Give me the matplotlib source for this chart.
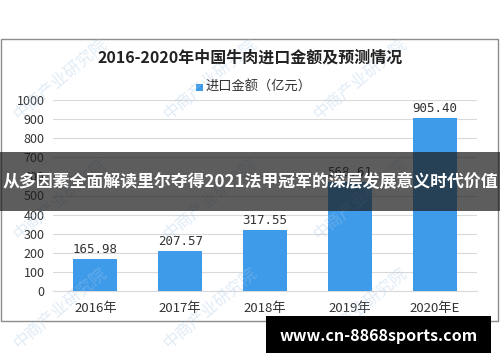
import matplotlib
matplotlib.use("Agg")
import matplotlib.pyplot as plt
from matplotlib.patches import Rectangle

plt.rcParams['font.family'] = ['Noto Sans CJK SC', 'DejaVu Sans']

categories = ["2016年", "2017年", "2018年", "2019年", "2020年E"]
values = [165.98, 207.57, 317.55, 568.61, 905.40]
value_labels = ["165.98", "207.57", "317.55", "568.61", "905.40"]
yticks = [0, 100, 200, 300, 400, 500, 600, 700, 800, 900, 1000]

fig = plt.figure(figsize=(5, 3.62), dpi=100)
fig.patch.set_facecolor('white')

# chart border
fig.patches.append(Rectangle((0.002, 1 - 321/362), 0.994, (321 - 39)/362,
                             transform=fig.transFigure, fill=False,
                             edgecolor='#8c8c8c', linewidth=1.0))

ax = fig.add_axes([53/500, 1 - 291/362, 424/500, 191/362])
x = list(range(len(categories)))
ax.bar(x, values, width=0.52, color='#3d9be9', zorder=3, label='进口金额（亿元）')
for xi, v, lab in zip(x, values, value_labels):
    ax.text(xi, v + 18, lab, ha='center', va='bottom', fontsize=9,
            family=['DejaVu Sans Mono'], color='#333333', zorder=4)
ax.set_ylim(0, 1000)
ax.set_xlim(-0.5, 4.5)
ax.set_yticks(yticks)
ax.set_yticklabels([str(t) for t in yticks], fontsize=9, color='#333333')
ax.set_xticks(x)
ax.set_xticklabels(categories, fontsize=9.5, color='#333333')
ax.tick_params(axis='both', length=0, pad=6)
ax.tick_params(axis='x', pad=8)
ax.grid(axis='y', color='#d9d9d9', linewidth=0.8, zorder=0)
for s in ax.spines.values():
    s.set_visible(False)
ax.spines['bottom'].set_visible(True)
ax.spines['bottom'].set_color('#d9d9d9')

fig.text(0.5, 1 - 58/362, "2016-2020年中国牛肉进口金额及预测情况", ha='center', va='center',
         fontsize=11.5, fontweight='bold', color='#222222')
# legend
fig.patches.append(Rectangle((196/500, 1 - 91/362), 7/500, 7/362, transform=fig.transFigure,
                             facecolor='#3d9be9', edgecolor='none'))
fig.text(205/500, 1 - 87/362, "进口金额（亿元）", ha='left', va='center', fontsize=9.5, color='#333333')

# watermarks
for (wx, wy) in [(0.12, 0.78), (0.42, 0.78), (0.72, 0.78), (0.12, 0.45), (0.42, 0.45),
                 (0.72, 0.45), (0.12, 0.15), (0.42, 0.15), (0.72, 0.15)]:
    fig.text(wx, wy, "中商产业研究院", rotation=40, fontsize=12, color='#a9c8e6',
             alpha=0.35, ha='center', va='center', zorder=1)

# overlay banner
fig.patches.append(Rectangle((0, 1 - 211/362), 1, 59/362, transform=fig.transFigure,
                             facecolor='#1e1e1e', alpha=0.72, edgecolor='none', zorder=10))
fig.text(0.5, 1 - 182/362, "从多因素全面解读里尔夺得2021法甲冠军的深层发展意义时代价值",
         ha='center', va='center', fontsize=12.2, fontweight='bold', color='white', zorder=11)

# bottom url box
fig.patches.append(Rectangle((266/500, 1 - 353/362), 225/500, 37/362, transform=fig.transFigure,
                             facecolor='black', edgecolor='none', zorder=10))
fig.text(378.5/500, 1 - 336/362, "www.cn-8868sports.com", ha='center', va='center',
         fontsize=11.5, fontweight='bold', color='white', zorder=11)

fig.savefig("out.png", dpi=100)
